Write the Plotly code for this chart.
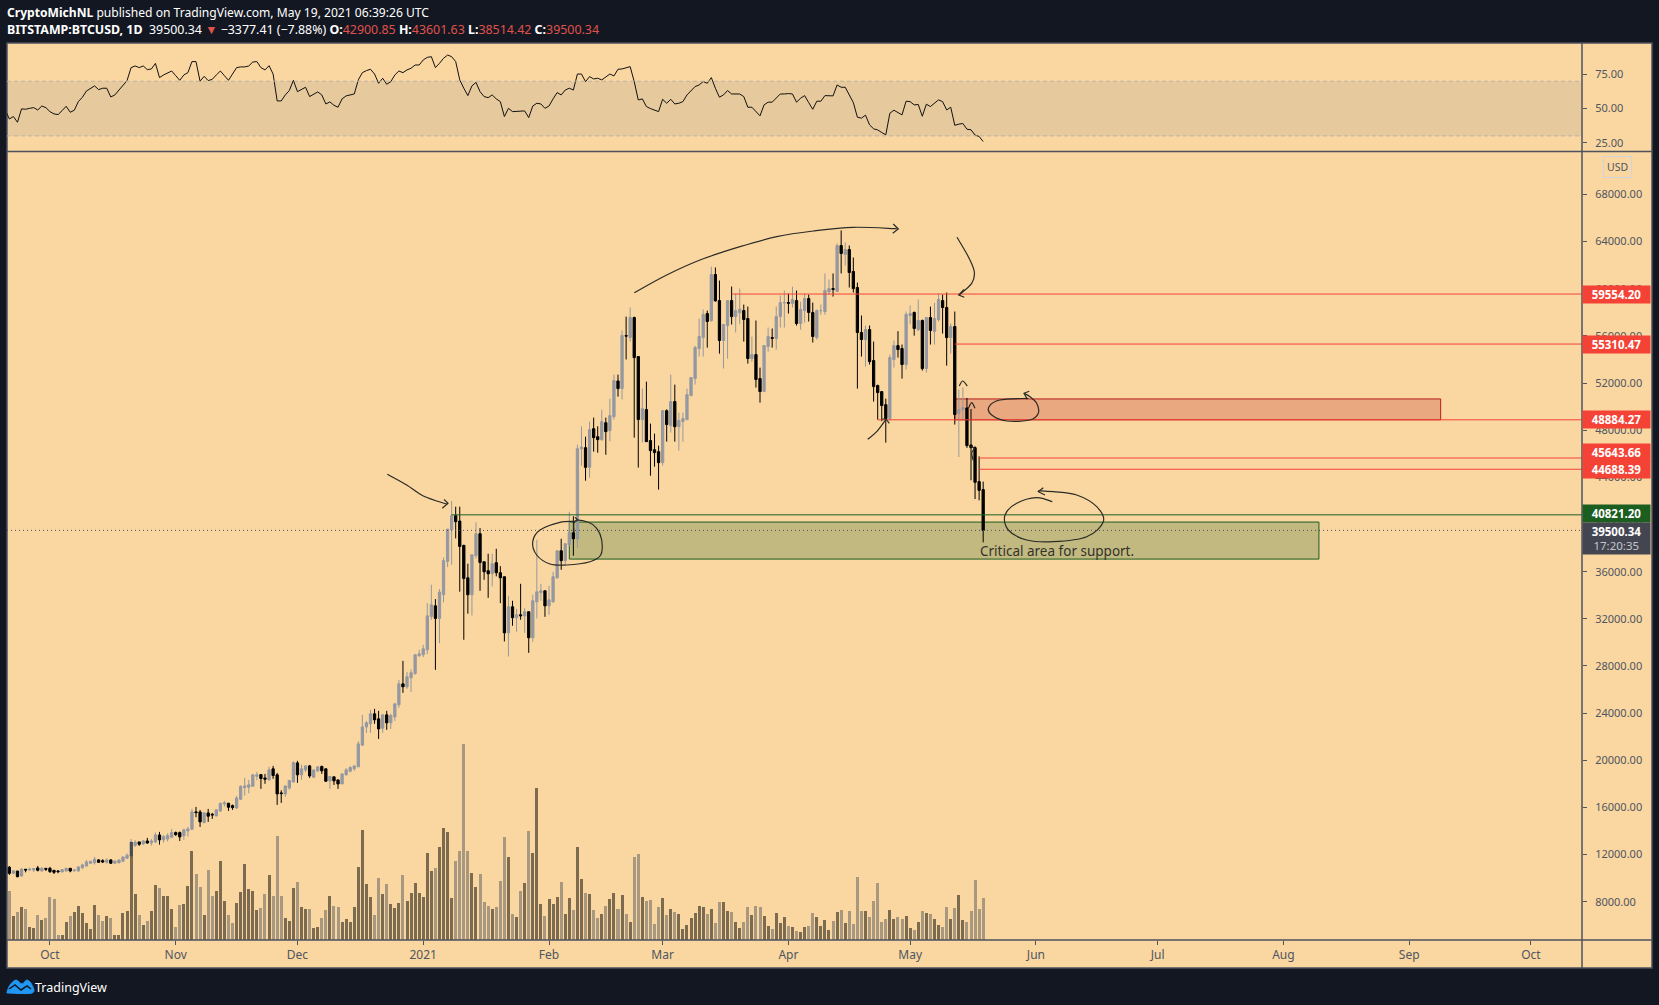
import pandas as pd
import plotly.graph_objects as go

W, H = 1659, 1005

opens = [10920,10400,10600,10180,10750,10690,10690,10860,10600,10830,10830,10660,10600,10520,10600,10830,10630,10600,10860,11020,
11260,11310,11540,11480,11340,11540,11260,11290,11430,11680,11880,12760,13070,12900,13150,12990,13070,13660,13240,13320,
13460,13860,13860,13600,14000,14140,15620,15610,14710,15530,15420,15270,15700,16300,16350,16150,15950,16690,17680,17710,
17790,18640,18780,18500,18330,19270,18760,17230,17140,17650,18160,19775,18760,19180,19520,18560,19100,19470,19270,18250,
18590,18330,17990,18760,19070,19270,19440,21280,22830,23090,23940,23510,22720,23850,23170,23680,24700,26480,26230,27000,
27360,28880,28950,29370,32200,33100,32030,34040,36870,39560,40750,40290,38230,35480,34040,37350,39220,36840,36080,35820,
36760,35910,35570,30810,33020,32090,32340,32240,32600,30390,33440,34210,34380,33100,33440,35480,37770,36930,38280,39300,
38790,46430,46520,44850,48130,47450,47200,48640,47960,49150,52180,51530,56030,55860,57560,54250,48900,49750,47120,46350,
46180,45250,49660,48390,50430,48300,48730,48900,50940,52380,54930,55860,57900,57310,61210,59000,55610,56880,59000,57640,
57960,58150,57480,54080,54420,52380,51280,55100,55860,55780,57640,58810,58830,58750,59000,57050,58150,59170,57990,55860,
58150,58070,59740,60020,59770,63670,62910,63330,61470,60110,56290,55690,56540,53910,51790,51280,50170,48990,54000,55180,
54930,53570,57730,57990,56540,57310,53230,57560,56370,57390,59000,58410,55860,56800,49410,49750,49890,46750,46520,43640,42960]
highs = [11030,10650,10600,10860,10760,10890,10840,11030,10920,10840,10950,10660,10690,10760,10860,10850,10720,11020,11220,11540,
11440,11800,11620,11600,11680,11600,11470,11560,11850,12100,13320,13210,13070,13210,13410,13320,13860,13920,13660,13800,
14170,13950,13950,14200,14340,15880,16040,15780,15610,15870,15530,15820,16380,16550,16380,16240,16970,17880,18500,18330,
18830,19010,18800,18840,19460,19520,18930,17450,17850,18330,19900,19950,19630,19600,19600,19200,19450,19550,19300,18640,
18600,18350,18900,19330,19500,19570,21620,23850,23340,24280,24360,24190,23870,24190,23950,24870,26820,28430,27500,27700,
29000,29370,29790,33330,34890,33670,34520,37200,39610,41990,41510,41510,38280,36670,37430,40180,39700,36840,37520,37520,
37940,36470,35570,33950,33530,32840,34970,32900,32600,34040,38710,34970,34380,34800,35990,37770,38790,38370,41080,40700,
46770,48330,47450,48720,49070,48330,49750,49070,50680,52720,52720,56460,57640,58410,57640,54250,51530,52120,48560,47710,
46690,49660,49770,52720,51870,49500,49500,51530,52470,55160,57470,58240,58150,61890,61810,60700,57000,59000,60190,59600,
60020,58660,58490,55950,57310,53310,55180,56710,56630,58490,59430,59850,59600,60190,59850,58900,59600,59510,58830,58240,
58660,61300,60790,61300,63840,64950,63930,63670,62650,60530,57730,56880,56880,55520,51870,51280,50680,54420,55610,56400,
55270,58070,58580,58070,59090,57390,57560,58490,58800,59600,59510,59680,57050,58070,51450,51620,50740,49800,46640,45780,43640]
lows = [10270,10350,10070,10130,10490,10600,10520,10570,10580,10600,10440,10350,10410,10500,10590,10490,10520,10550,10800,11010,
11220,11140,11280,11280,11230,11200,11230,11280,11370,11620,11880,12650,12730,12810,12900,12760,12980,12840,13010,13100,
13410,13580,13150,13240,13520,14090,15160,14340,14650,14770,15020,15250,15600,16070,15700,15790,15870,16630,17000,17200,
17770,18300,17570,18000,18280,18420,16210,16380,16900,17500,18100,18080,18330,19000,18500,18530,19000,18840,18190,17570,
17900,17570,17980,18700,18970,19100,19430,21220,22320,22320,23090,21810,22320,22580,22660,23340,24450,25720,26060,25800,
27250,28750,28750,29000,31920,27670,29930,33390,36390,36590,38820,34300,30220,32430,32280,37120,34380,35310,33780,34750,
35600,33330,30080,28800,31410,30900,31920,30810,29110,30050,32030,33530,32170,32340,33360,35400,36160,36530,38170,37350,
38030,44990,43720,43970,46180,46090,47100,45920,47060,48900,50850,50600,54000,55520,47370,44830,46950,47000,44140,44910,
42960,45000,47030,47800,47030,46270,47030,48900,50880,51870,54250,54250,55010,57200,58920,54500,53230,54080,56970,56290,
57000,55520,53650,53800,51620,50340,51280,54670,55010,54840,56710,56710,57900,58410,56880,56530,57140,57220,55440,55690,
57800,57800,59510,59340,59770,61300,61970,60110,59680,51530,54250,53400,53570,50430,48900,48760,46950,48800,53310,54160,
52380,53150,56990,56030,56400,53060,52890,55270,55270,57220,56200,53480,54500,48480,45730,48840,46500,43750,42160,42050,38490]
closes = [10410,10620,10120,10750,10690,10750,10810,10660,10830,10750,10550,10490,10550,10720,10830,10600,10690,10950,11120,11370,
11430,11600,11340,11370,11540,11260,11450,11540,11790,11940,13070,13040,12870,13150,12980,13150,13660,13240,13520,13610,
13860,13690,13490,14090,14170,15610,15560,14770,15530,15250,15360,15790,16350,16380,16010,15980,16800,17770,17820,17910,
18760,18760,18450,18390,19180,18700,17140,17170,17820,18280,19800,18760,19270,19520,18670,19180,19440,19100,18220,18620,
18250,17990,18840,19180,19380,19520,21390,22830,23170,23940,23430,22660,23850,23170,23790,24780,26480,26230,27080,27420,
28950,29030,29450,32250,33190,32030,34270,36930,39610,40750,40240,38140,35420,34040,37430,39220,36780,35990,35820,36670,
35910,35480,30810,33020,32090,32340,32260,32600,30390,33530,34290,34380,33100,33610,35570,37770,36930,38370,39300,38790,
46430,46570,44850,48050,47370,47200,48730,47880,49240,52210,51530,56030,55990,57560,54160,48900,49830,47030,46270,46100,
45250,49660,48480,50430,48300,48820,48990,51020,52470,55010,55950,57820,57220,61210,58970,55610,56970,59000,57640,58150,
58270,57390,54080,54420,52300,51280,55180,55950,55800,57640,58830,58830,58780,59090,57050,58240,59170,57990,55950,58150,
58150,59850,60020,59940,63670,62990,63330,61380,60020,56290,55690,56540,53820,51700,51190,50090,48990,54160,55180,54840,
53570,57820,57900,56630,57310,53230,57560,56460,57470,59090,58410,55860,56800,49330,49750,49920,46700,46520,43580,42900,39500.34]

# volume (no scale on the picture)
volumes = [14700,7200,8400,9900,9300,3900,3600,7500,6000,6600,12900,12300,1800,1800,5400,7200,8400,10200,8100,5100,
3300,10500,7500,5700,7200,6600,1800,1800,8100,8700,29400,13800,7500,4500,5700,8700,16500,15600,13200,13200,
9300,3900,10500,10800,16200,26700,19800,15900,7500,21000,13200,14700,23700,11700,7500,5100,11100,14400,22800,15300,
14700,9000,9600,13800,19500,13200,31200,13200,6600,5700,15600,17400,9900,9300,9300,3600,3900,6600,9000,13200,
10200,9900,5400,6300,5400,9900,21900,33000,16800,12900,7500,18600,13800,16800,10800,9600,11100,19500,11700,14100,
17100,14100,12900,26100,20700,21600,27900,33600,32400,12600,23700,26700,58800,26700,20100,15900,19800,11400,10200,9300,
9900,17700,30900,24900,7800,6900,14700,17100,32700,26100,45600,10800,7200,12300,10800,12900,17400,7800,12600,9000,
27900,18300,14100,13800,9000,6600,7800,10200,12300,14100,9300,13500,7800,5400,24900,25800,12900,11700,12000,4800,
9900,12600,7500,9300,8400,7800,3300,4500,6600,8100,10200,9900,7800,9300,5100,11400,11400,8700,8400,5400,
3600,5400,9900,7500,10200,9900,7200,4200,3300,8100,5100,6900,4200,3900,2700,2400,3900,4200,8100,6900,
4200,6000,3000,5700,8400,9000,5100,8700,4800,18900,8700,8700,6900,11700,17100,5400,6300,9000,6300,6900,
6300,7200,3600,3000,5400,8700,8100,7800,6300,4500,3900,9900,6300,9600,13500,6000,5400,8700,18000,9300,12600]

# rsi starts one day before the first visible candle
rsi = [49.0,42.4,44.2,40.0,49.8,49.5,50.2,50.7,49.0,51.9,50.7,47.8,46.1,45.6,48.5,51.7,47.3,48.8,55.1,58.3,62.9,
64.9,66.6,63.9,64.9,64.9,58.5,60.0,63.6,67.3,70.5,80.0,81.2,80.0,81.2,78.5,79.0,83.1,72.7,74.6,75.8,
77.5,74.1,70.7,74.6,76.3,84.4,84.4,70.0,73.6,70.5,71.4,74.6,77.5,74.1,70.7,75.3,80.0,80.5,80.5,81.2,
84.1,84.4,80.0,78.3,81.4,75.3,55.6,55.6,60.0,63.2,70.7,62.4,64.1,65.6,58.8,60.5,62.2,60.0,53.4,54.9,
52.4,51.0,57.1,59.3,60.0,60.7,71.0,76.3,77.8,78.8,75.3,68.5,72.2,67.8,69.7,74.6,77.5,76.3,78.3,79.5,
81.9,81.9,85.6,87.5,88.0,80.0,83.1,86.8,89.2,88.0,84.4,71.0,64.9,59.5,66.6,69.2,62.4,58.8,58.0,60.0,
57.1,55.1,44.2,50.2,47.8,47.8,48.3,48.3,43.4,51.9,53.9,53.4,50.2,51.9,57.1,61.7,60.0,63.6,64.9,63.6,
75.3,75.3,69.7,73.4,71.7,72.2,71.0,72.9,75.3,73.9,78.8,79.0,80.0,80.7,69.7,56.3,57.1,51.5,50.0,49.0,
47.8,56.8,53.9,56.8,53.4,53.9,55.1,60.0,63.2,66.1,67.3,69.8,68.5,72.7,64.9,58.3,60.0,63.2,60.7,60.7,
60.7,58.8,51.0,51.0,47.8,44.7,52.7,54.7,54.7,57.6,60.7,60.7,61.0,60.7,54.7,57.6,59.5,54.4,49.5,55.4,
55.4,59.5,59.5,59.3,67.3,65.6,65.6,60.0,54.4,43.7,43.0,45.2,38.1,35.2,34.4,32.5,30.8,46.6,48.8,47.1,
45.4,55.4,55.1,52.7,53.0,44.4,53.2,51.5,53.9,56.4,55.1,49.0,51.0,37.8,38.6,39.1,34.9,34.5,30.6,29.6,25.9]

price_ticks = [8000,12000,16000,20000,24000,28000,32000,36000,40000,44000,48000,52000,56000,60000,64000,68000]
rsi_ticks = [25,50,75]
month_ticks = ["2020-10-01","2020-11-01","2020-12-01","2021-01-01","2021-02-01","2021-03-01","2021-04-01","2021-05-01",
               "2021-06-01","2021-07-01","2021-08-01","2021-09-01","2021-10-01"]
month_labels = ["Oct","Nov","Dec","2021","Feb","Mar","Apr","May","Jun","Jul","Aug","Sep","Oct"]

red_levels = [59554.20,55310.47,48884.27,45643.66,44688.39]
red_starts = ["2021-03-18","2021-05-12","2021-04-23","2021-05-18","2021-05-18"]
red_badge_y = [294.3,344.4,419.3,452.3,469.6]
green_level = 40821.20
green_start = "2021-01-08"
last_price = 39500.34

dates = pd.date_range("2020-09-21", periods=len(closes))
rsi_dates = pd.date_range("2020-09-20", periods=len(rsi))
x_start = "2020-09-20 10:00"
x_end = "2021-10-13 14:00"

BG = "#131722"
CREAM = "#fad7a0"
AXIS = "#4c525e"
LABEL = "#4f5561"
RED = "#f44336"
GREEN = "#1b5e20"

# panel edges in pixels of the page
L, R, RP, TOP, SEP, XAX, BOT = 7, 1582, 1652, 43, 151.5, 940, 968
BADGE_W = 67


def px(x):
    return x / W


def py(y):
    return 1 - y / H


def smooth(pts):
    # catmull-rom through the hand drawn points
    p = [pts[0]] + pts + [pts[-1]]
    d = "M %.5f %.5f" % (px(pts[0][0]), py(pts[0][1]))
    for i in range(1, len(p) - 2):
        c1 = (p[i][0] + (p[i + 1][0] - p[i - 1][0]) / 6, p[i][1] + (p[i + 1][1] - p[i - 1][1]) / 6)
        c2 = (p[i + 1][0] - (p[i + 2][0] - p[i][0]) / 6, p[i + 1][1] - (p[i + 2][1] - p[i][1]) / 6)
        d += " C %.5f %.5f %.5f %.5f %.5f %.5f" % (px(c1[0]), py(c1[1]), px(c2[0]), py(c2[1]), px(p[i + 1][0]), py(p[i + 1][1]))
    return d


def straight(pts):
    return "M " + " L ".join("%.5f %.5f" % (px(a), py(b)) for a, b in pts)


# the author's freehand marks, page pixels
curves = [
    [(387.3,474.3),(406.7,485),(423.3,496),(447.3,504.3)],
    [(634.3,292.7),(666.7,275),(700,260),(740,246.7),(776.7,236.7),(813.3,231),(853.3,227.3),(896.7,228.7)],
    [(867.7,439.3),(876.7,431.7),(886,419.3)],
    [(957,237.3),(968.3,256.7),(974.3,271.7),(971.7,283.3),(959,295)],
    [(959.3,386),(962.7,381),(967.3,386)],
    [(968.3,408.3),(971.7,402.7),(975,408.3)],
    [(970.7,446.7),(974.3,448.3),(971.7,453.3),(973.3,460.7)],
    [(575,517.3),(576.7,521),(560,522.3),(540,530),(532.7,541.7),(536.7,555),(550,564),(566.7,565),(590,561.7),(600.7,555),(601.7,540),(596.7,528.3),(588.3,522.3),(575,521),(574,532)],
    [(1028.3,398.3),(1000,400),(989,406.7),(991.7,415),(1006.7,421),(1030,420),(1038.3,413.3),(1036.7,403.3),(1030,396.7),(1024,393.3)],
    [(1052.3,501.7),(1036.7,497.7),(1016.7,503.3),(1005,515),(1008.3,530),(1026.7,540),(1053.3,541.7),(1086.7,536.7),(1103.3,521.7),(1096.7,506.7),(1076.7,495),(1053.3,491.7),(1038.3,490.7)],
]
heads = [
    [(444,499.3),(448,503.3),(442.3,508.3)],
    [(893.3,224),(898.3,229),(892.7,233.3)],
    [(881.7,419),(886,419),(889.3,423.3)],
    [(964,289.3),(958.7,295),(964.3,297.3)],
    [(1029.3,391.3),(1024,393.3),(1027.3,399.3)],
    [(1043.3,487.7),(1038.3,491.7),(1045,495)],
]

shapes = []
# cream panel with the price scale
shapes.append(dict(type="rect", xref="paper", yref="paper", x0=px(L), x1=px(RP), y0=py(BOT), y1=py(TOP),
                   fillcolor=CREAM, line=dict(color=AXIS, width=1.5), layer="below"))

# rsi band
shapes.append(dict(type="rect", xref="paper", yref="y2", x0=px(L), x1=px(R), y0=30, y1=70,
                   fillcolor="rgba(120,123,134,0.15)", line=dict(width=0), layer="below"))
for v in [30, 70]:
    shapes.append(dict(type="line", xref="paper", yref="y2", x0=px(L), x1=px(R), y0=v, y1=v,
                       line=dict(color="#b9b3a6", width=1, dash="4px,3px")))

# zones
shapes.append(dict(type="rect", x0="2021-02-06", x1="2021-08-09 18:00", y0=37067, y1=40208,
                   fillcolor="rgba(27,94,32,0.25)", line=dict(color=GREEN, width=1), layer="below"))
shapes.append(dict(type="rect", x0="2021-05-12", x1="2021-09-08 18:00", y0=48884.27, y1=50654,
                   fillcolor="rgba(183,28,28,0.25)", line=dict(color="#b71c1c", width=1), layer="below"))

for lvl, st in zip(red_levels, red_starts):
    shapes.append(dict(type="line", x0=st, x1=x_end, y0=lvl, y1=lvl, line=dict(color=RED, width=1)))
shapes.append(dict(type="line", x0=green_start, x1=x_end, y0=green_level, y1=green_level, line=dict(color=GREEN, width=1)))
shapes.append(dict(type="line", x0=x_start, x1=x_end, y0=last_price, y1=last_price, line=dict(color=AXIS, width=1, dash="1px,3px")))

# pane separators
shapes.append(dict(type="line", xref="paper", yref="paper", x0=px(L), x1=px(RP), y0=py(SEP), y1=py(SEP), line=dict(color=AXIS, width=1.5)))
shapes.append(dict(type="line", xref="paper", yref="paper", x0=px(L), x1=px(RP), y0=py(XAX), y1=py(XAX), line=dict(color=AXIS, width=1.5)))
shapes.append(dict(type="line", xref="paper", yref="paper", x0=px(R), x1=px(R), y0=py(BOT), y1=py(TOP), line=dict(color=AXIS, width=1.5)))

for c in curves:
    shapes.append(dict(type="path", xref="paper", yref="paper", path=smooth(c), line=dict(color="#2b2b26", width=1.2)))
for c in heads:
    shapes.append(dict(type="path", xref="paper", yref="paper", path=straight(c), line=dict(color="#2b2b26", width=1.2)))

# logo, a small cloud
logo = [(7,992),(10,985),(16,980),(22,984),(27,980),(32,985),(32,993),(7,993)]
shapes.append(dict(type="path", xref="paper", yref="paper", path=smooth(logo) + " Z", fillcolor="#2196f3", line=dict(color="#2196f3", width=1)))
shapes.append(dict(type="path", xref="paper", yref="paper", path=straight([(9,989),(15,985),(21,990),(27,986),(31,989)]), line=dict(color=BG, width=1.5)))

fig = go.Figure()

fig.add_trace(go.Scatter(x=rsi_dates, y=rsi, yaxis="y2", mode="lines", line=dict(color="#111111", width=1), hoverinfo="skip"))

fig.add_trace(go.Candlestick(
    x=dates, open=opens, high=highs, low=lows, close=closes,
    increasing=dict(line=dict(color="#9598a1", width=1), fillcolor="#9598a1"),
    decreasing=dict(line=dict(color="#000000", width=1), fillcolor="#000000"),
    whiskerwidth=0,
))

vol_colors = ["rgba(0,0,0,0.5)" if c >= o else "rgba(85,90,95,0.5)" for o, c in zip(opens, closes)]
fig.add_trace(go.Bar(x=dates, y=volumes, yaxis="y3", marker=dict(color=vol_colors, line=dict(width=0)),
                     width=64000000, hoverinfo="skip"))

badge_font = dict(family="Noto Sans", size=11.5, color="#ffffff")


def badge(ypix, text, color):
    return dict(xref="paper", yref="paper", x=px(R), y=py(ypix), xanchor="left", yanchor="middle", text=text, showarrow=False,
                bgcolor=color, width=BADGE_W, height=17, align="center", borderpad=0, font=badge_font)


annotations = []
for lvl, yp in zip(red_levels, red_badge_y):
    annotations.append(badge(yp, "<b>%.2f</b>" % lvl, RED))
annotations.append(badge(513.8, "<b>%.2f</b>" % green_level, GREEN))
annotations.append(dict(xref="paper", yref="paper", x=px(R), y=py(522), xanchor="left", yanchor="top", showarrow=False,
                        text="<b>39500.34</b><br><span style=\"color:#c4c6cc\">17:20:35</span>", bgcolor="#434651",
                        width=BADGE_W, height=31, align="center", borderpad=0, font=badge_font))

annotations.append(dict(xref="paper", yref="paper", x=px(1617.5), y=py(167.5), xanchor="center", yanchor="middle",
                        text="USD", showarrow=False, bordercolor="#d1d4dc", borderwidth=1, borderpad=3,
                        font=dict(family="Noto Sans", size=10.5, color=LABEL)))

annotations.append(dict(xref="paper", yref="paper", x=px(978), y=py(551), xanchor="left", yanchor="middle",
                        text="Critical area for support.", showarrow=False,
                        font=dict(family="Noto Sans", size=13.5, color="#33322c")))

annotations.append(dict(xref="paper", yref="paper", x=px(5), y=py(13), xanchor="left", yanchor="middle", showarrow=False,
                        text="<b>CryptoMichNL</b> published on TradingView.com, May 19, 2021 06:39:26 UTC",
                        font=dict(family="Noto Sans", size=12.1, color="#ffffff")))
red_txt = "<span style=\"color:#e0524c\">%s</span>"
annotations.append(dict(xref="paper", yref="paper", x=px(5), y=py(30), xanchor="left", yanchor="middle", showarrow=False,
                        text="<b>BITSTAMP:BTCUSD, 1D</b>  39500.34 " + red_txt % "▼" + " −3377.41 (−7.88%) <b>O:</b>" + red_txt % "42900.85"
                             + " <b>H:</b>" + red_txt % "43601.63" + " <b>L:</b>" + red_txt % "38514.42" + " <b>C:</b>" + red_txt % "39500.34",
                        font=dict(family="Noto Sans", size=12.4, color="#ffffff")))
annotations.append(dict(xref="paper", yref="paper", x=px(33), y=py(987), xanchor="left", yanchor="middle", showarrow=False,
                        text="TradingView", font=dict(family="Noto Sans", size=12.5, color="#ffffff")))

tick_font = dict(family="Noto Sans", size=11, color=LABEL)
fig.update_layout(
    width=W, height=H, margin=dict(l=0, r=0, t=0, b=0), autosize=False,
    paper_bgcolor=BG, plot_bgcolor=CREAM, showlegend=False, bargap=0, boxgap=0.2,
    xaxis=dict(domain=[px(L), px(R)], anchor="y", type="date", range=[x_start, x_end], rangeslider=dict(visible=False),
               tickvals=month_ticks, ticktext=month_labels, tickangle=0, ticks="outside", ticklen=4, tickcolor=AXIS,
               tickfont=dict(family="Noto Sans", size=12, color=LABEL), showgrid=False, zeroline=False, showline=False,
               ticklabelstandoff=0),
    yaxis=dict(domain=[py(XAX), py(SEP)], anchor="x", side="right", range=[4748, 71648], tickvals=price_ticks, tickformat=".2f",
               ticks="outside", ticklen=4, tickcolor=AXIS, tickfont=tick_font, showgrid=False, zeroline=False, showline=False,
               ticklabelstandoff=6),
    yaxis2=dict(domain=[py(SEP), py(TOP)], anchor="x", side="right", range=[18.6, 98], tickvals=rsi_ticks, tickformat=".2f",
                ticks="outside", ticklen=4, tickcolor=AXIS, tickfont=tick_font, showgrid=False, zeroline=False, showline=False,
                ticklabelstandoff=6),
    yaxis3=dict(overlaying="y", side="left", range=[0, 236400], visible=False),
    shapes=shapes, annotations=annotations,
)

# the page's default body margin would push the chart 8px in
fig.write_html("out.html", config={"displayModeBar": False},
               post_script="document.body.style.margin='0';document.body.style.background='#131722';")
